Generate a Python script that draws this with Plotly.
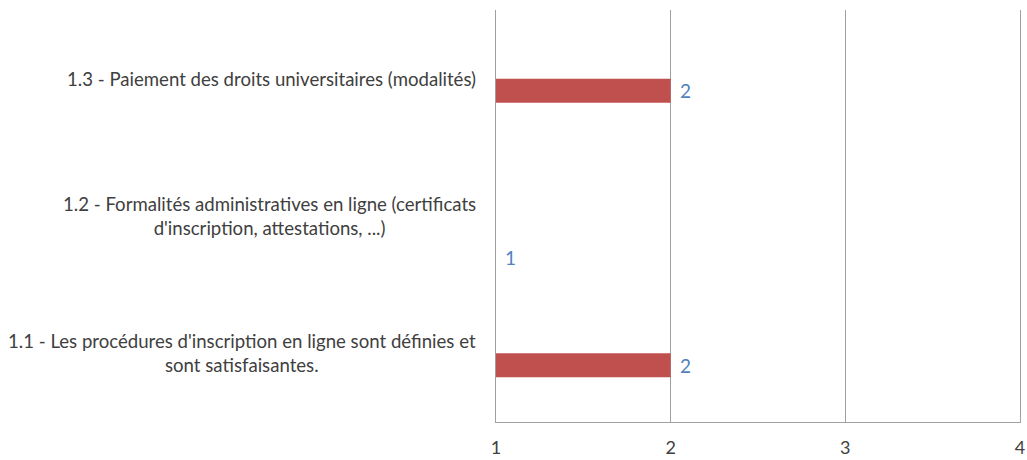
import plotly.graph_objects as go

# Survey items (bottom to top) and their scores on the 1-4 scale
categories = ["1.1", "1.2", "1.3"]
item_labels = [
    "1.1 - Les procédures d'inscription en ligne sont définies et<br>sont satisfaisantes.",
    "1.2 - Formalités administratives en ligne (certificats<br>d'inscription, attestations, ...)",
    "1.3 - Paiement des droits universitaires (modalités)",
]
scores = [2, 1, 2]
tick_values = [1, 2, 3, 4]

BAR_COLOR = "#c0504d"
LABEL_BLUE = "#4f81bd"
TEXT_GRAY = "#404040"
GRID_GRAY = "#a0a0a0"
FONT = "Lato, 'Open Sans', sans-serif"

fig = go.Figure()
fig.add_trace(go.Bar(
    y=categories,
    x=scores,
    orientation="h",
    marker=dict(color=BAR_COLOR, line=dict(width=0)),
    width=0.175,
    offset=-0.175,
    hoverinfo="skip",
))

annotations = []
# item labels to the left of the plot, lines centred (y given as category index)
for i, lab in enumerate(item_labels):
    annotations.append(dict(
        x=0, xref="paper", y=i, yref="y",
        text=lab, showarrow=False, xanchor="right", yanchor="middle",
        align="center", xshift=-18,
        font=dict(family=FONT, size=18.6, color=TEXT_GRAY),
    ))
# value labels at the end of each bar
for i, v in enumerate(scores):
    annotations.append(dict(
        x=v, xref="x", y=i, yref="y",
        text=str(v), showarrow=False, xanchor="left", yanchor="middle",
        xshift=7, yshift=-12 if v > tick_values[0] else -41,
        font=dict(family=FONT, size=19, color=LABEL_BLUE),
    ))

fig.update_layout(
    width=1027, height=460,
    margin=dict(l=496, r=7, t=10, b=38, autoexpand=False),
    paper_bgcolor="white", plot_bgcolor="white",
    showlegend=False,
    annotations=annotations,
    xaxis=dict(
        range=[1, 4], tickvals=tick_values, ticktext=[str(t) for t in tick_values],
        showgrid=True, gridcolor=GRID_GRAY, gridwidth=1,
        showline=True, linecolor=GRID_GRAY, linewidth=1,
        zeroline=False, ticks="", ticklabelstandoff=9, automargin=False,
        tickfont=dict(family=FONT, size=18, color=TEXT_GRAY),
    ),
    yaxis=dict(
        type="category", categoryorder="array", categoryarray=categories,
        range=[-0.5, 2.5], showticklabels=False, showgrid=False,
        showline=True, mirror=True, linecolor=GRID_GRAY, linewidth=1,
        zeroline=False, ticks="", automargin=False,
    ),
)

fig.write_html("out.html")
